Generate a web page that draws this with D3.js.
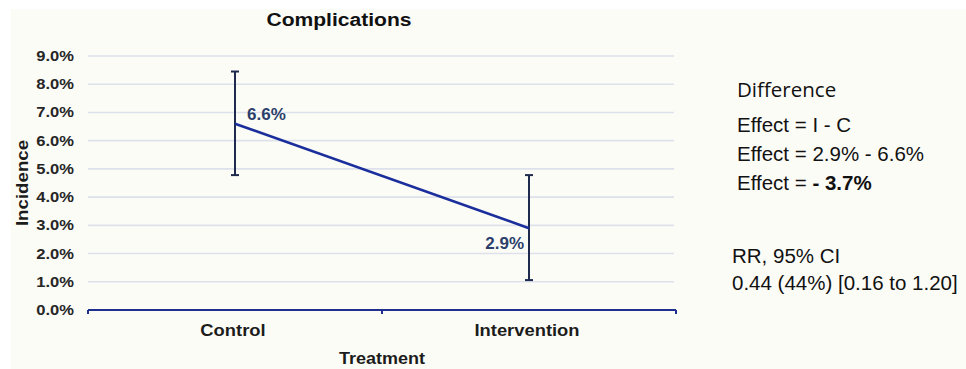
<!DOCTYPE html>
<html>
<head>
<meta charset="utf-8">
<script src="https://cdn.jsdelivr.net/npm/d3@7"></script>
<style>
  html, body { margin: 0; padding: 0; background: #ffffff; }
  svg { display: block; }
</style>
</head>
<body>
<svg id="chart" width="966" height="369"></svg>
<script>
// Complication incidence by treatment arm, with 95% confidence intervals
const categories = ["Control", "Intervention"];
const incidence = [6.6, 2.9];          // %
const ciLow = [4.78, 1.06];            // %
const ciHigh = [8.45, 4.78];           // %
const yTicks = [0, 1, 2, 3, 4, 5, 6, 7, 8, 9];
const pointLabels = ["6.6%", "2.9%"];

const sideTitle = "Difference";
const effectLines = ["Effect = I - C", "Effect = 2.9% - 6.6%"];
const effectResult = ["Effect = ", "- 3.7%"];
const rrLines = ["RR, 95% CI", "0.44 (44%) [0.16 to 1.20]"];

const svg = d3.select("#chart");
const W = 966, H = 369;

// Widen text horizontally by a factor, keeping its anchor
function widen(sel, s) {
  sel.each(function () {
    const w = this.getComputedTextLength();
    d3.select(this).attr("textLength", w * s).attr("lengthAdjust", "spacingAndGlyphs");
  });
  return sel;
}

// Page panel
svg.append("rect").attr("x", 11).attr("y", 9).attr("width", W - 11).attr("height", H - 9)
  .attr("fill", "#fcfcf7");

const x = d3.scaleBand().domain(categories).range([88, 676]).padding(0);
const y = d3.scaleLinear().domain([0, 9]).range([310, 56]);
const cx = d => x(d) + x.bandwidth() / 2;

const chartFont = "'Liberation Sans', Arial, sans-serif";

// Horizontal gridlines
svg.append("g").selectAll("line").data(yTicks.filter(t => t > 0)).join("line")
  .attr("x1", 88).attr("x2", 674)
  .attr("y1", d => y(d)).attr("y2", d => y(d))
  .attr("stroke", "#dde1eb").attr("stroke-width", 1.6);

// Y tick labels
widen(svg.append("g").selectAll("text").data(yTicks).join("text")
  .attr("x", 74).attr("y", d => y(d) + 5)
  .attr("text-anchor", "end")
  .attr("font-family", chartFont).attr("font-weight", "bold")
  .attr("font-size", 14).attr("fill", "#262626")
  .text(d => d3.format(".1f")(d) + "%"), 1.18);

// X axis line with tick marks at category boundaries
const xEdges = [...categories.map(c => x(c)), x.range()[1]];
const axisG = svg.append("g");
axisG.append("line").attr("x1", x.range()[0]).attr("x2", x.range()[1])
  .attr("y1", y(0)).attr("y2", y(0))
  .attr("stroke", "#1f2f8f").attr("stroke-width", 2.2);
axisG.selectAll("line.tick").data(xEdges).join("line").attr("class", "tick")
  .attr("x1", d => d).attr("x2", d => d)
  .attr("y1", y(0)).attr("y2", y(0) + 4)
  .attr("stroke", "#1f2f8f").attr("stroke-width", 2);

// Category labels
widen(svg.append("g").selectAll("text").data(categories).join("text")
  .attr("x", d => cx(d) - 2).attr("y", 336)
  .attr("text-anchor", "middle")
  .attr("font-family", chartFont).attr("font-weight", "bold")
  .attr("font-size", 17).attr("fill", "#1c1c1c")
  .text(d => d), 1.08);

// Axis titles
widen(svg.append("text").attr("x", x.range()[0] + (x.range()[1] - x.range()[0]) / 2).attr("y", 364)
  .attr("text-anchor", "middle").attr("font-family", chartFont).attr("font-weight", "bold")
  .attr("font-size", 17).attr("fill", "#1c1c1c").text("Treatment"), 1.06);

widen(svg.append("text").attr("transform", `translate(28,${(y(0) + y(9)) / 2}) rotate(-90)`)
  .attr("text-anchor", "middle").attr("font-family", chartFont).attr("font-weight", "bold")
  .attr("font-size", 17).attr("fill", "#1c1c1c").text("Incidence"), 1.1);

widen(svg.append("text").attr("x", 339).attr("y", 26)
  .attr("text-anchor", "middle").attr("font-family", chartFont).attr("font-weight", "bold")
  .attr("font-size", 18).attr("fill", "#111").text("Complications"), 1.17);

// Error bars
const eb = svg.append("g").attr("stroke", "#1e2b4f").attr("stroke-width", 2);
categories.forEach((c, i) => {
  eb.append("line").attr("x1", cx(c)).attr("x2", cx(c)).attr("y1", y(ciLow[i])).attr("y2", y(ciHigh[i]));
  [ciLow[i], ciHigh[i]].forEach(v => {
    eb.append("line").attr("x1", cx(c) - 4).attr("x2", cx(c) + 4).attr("y1", y(v)).attr("y2", y(v));
  });
});

// Mean line
const line = d3.line().x((d, i) => cx(categories[i])).y(d => y(d));
svg.append("path").datum(incidence).attr("d", line)
  .attr("fill", "none").attr("stroke", "#1a2e9c").attr("stroke-width", 2.6);

// Point labels
svg.append("text").attr("x", cx(categories[0]) + 12).attr("y", y(incidence[0]) - 4)
  .attr("font-family", chartFont).attr("font-weight", "bold").attr("font-size", 17)
  .attr("fill", "#2b3f6b").text(pointLabels[0]);
svg.append("text").attr("x", cx(categories[1]) - 5).attr("y", y(incidence[1]) + 21)
  .attr("text-anchor", "end")
  .attr("font-family", chartFont).attr("font-weight", "bold").attr("font-size", 17)
  .attr("fill", "#2b3f6b").text(pointLabels[1]);

// Side annotations
const sideFont = "'Open Sans', 'Noto Sans', sans-serif";
const bodyFont = "'Liberation Sans', Arial, sans-serif";
svg.append("text").attr("x", 737).attr("y", 97).attr("font-family", sideFont)
  .attr("font-size", 20.5).attr("fill", "#111").text(sideTitle);
effectLines.forEach((t, i) => {
  svg.append("text").attr("x", 737).attr("y", 132 + i * 29).attr("font-family", bodyFont)
    .attr("font-size", 20.5).attr("fill", "#111").text(t);
});
const res = svg.append("text").attr("x", 737).attr("y", 190).attr("font-family", bodyFont)
  .attr("font-size", 20.5).attr("fill", "#111");
res.append("tspan").text(effectResult[0]);
res.append("tspan").attr("font-weight", "bold").text(effectResult[1]);

rrLines.forEach((t, i) => {
  svg.append("text").attr("x", 732).attr("y", 263 + i * 27).attr("font-family", bodyFont)
    .attr("font-size", 20.5).attr("fill", "#111").text(t);
});
</script>
</body>
</html>
